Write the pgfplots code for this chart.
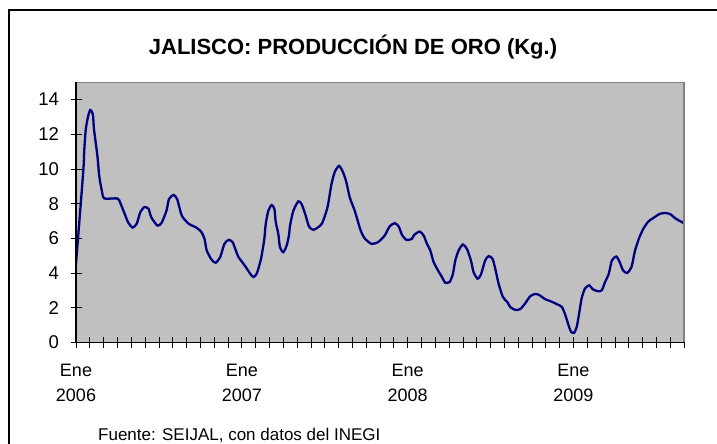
\documentclass[border=0pt]{standalone}
\usepackage{fontspec}
\setmainfont{Liberation Sans}
\usepackage{pgfplots}
\pgfplotsset{compat=1.18}
\definecolor{plotgray}{HTML}{C0C0C0}
\definecolor{bordergray}{HTML}{808080}
\definecolor{navyline}{HTML}{000080}
\begin{document}
\begin{tikzpicture}
\useasboundingbox (0bp,0bp) rectangle (717bp,444bp);
\draw[black, line width=1.3bp] (9bp,-20bp) -- (9bp,434bp) -- (740bp,434bp);
\begin{axis}[
  at={(76bp,101.7bp)}, anchor=origin, scale only axis,
  width=608bp, height=260bp,
  xmin=0, xmax=44, ymin=0, ymax=15,
  axis background/.style={fill=plotgray},
  axis line style={draw=none},
  xtick pos=bottom, ytick pos=left,
  xtick={0,12,24,36},
  xticklabels={{Ene\\2006},{Ene\\2007},{Ene\\2008},{Ene\\2009}},
  minor xtick={0,...,44},
  ytick={0,2,...,14},
  tick align=center,
  major tick length=11bp, minor tick length=11bp,
  tick style={black, line width=0.8bp},
  xticklabel style={align=center, font=\fontsize{18bp}{25bp}\selectfont, yshift=-13bp},
  yticklabel style={font=\fontsize{18.5bp}{20bp}\selectfont, xshift=-8bp},
  /pgf/number format/assume math mode=true,
  after end axis/.code={
    \draw[bordergray, line width=1.2bp] (rel axis cs:0,1) -- (rel axis cs:1,1) -- (rel axis cs:1,0);
    \draw[black, line width=1.2bp] (rel axis cs:0,1) -- (rel axis cs:0,0) -- (rel axis cs:1,0);
  },
]
\addplot[navyline, line width=2.3bp, smooth, tension=0.4] coordinates {
(0,4.53) (0.52,9.8) (0.6,11.1) (0.71,12.3) (0.88,13.05) (1.02,13.4) (1.15,13.3)
(1.24,13.05) (1.3,12.3) (1.55,10.75) (1.68,9.6) (1.87,8.74) (2.05,8.3) (3.0,8.3)
(3.19,8.07) (3.48,7.5) (3.79,6.89) (4.1,6.62) (4.4,6.85) (4.65,7.5) (4.95,7.8)
(5.25,7.7) (5.45,7.21) (5.9,6.73) (6.2,6.9) (6.55,7.6) (6.73,8.27) (7.07,8.5)
(7.33,8.24) (7.66,7.3) (8.17,6.83) (8.64,6.65) (9.05,6.39) (9.3,5.97) (9.46,5.3)
(9.8,4.78) (10.1,4.59) (10.43,4.9) (10.74,5.68) (11.05,5.91) (11.33,5.78) (11.52,5.4)
(11.76,4.92) (12.24,4.4) (12.6,3.96) (12.84,3.77) (13.08,3.96) (13.39,4.82) (13.63,5.97)
(13.73,6.83) (13.92,7.59) (14.16,7.92) (14.36,7.69) (14.45,6.96) (14.64,6.26) (14.76,5.49)
(15.0,5.2) (15.25,5.59) (15.41,6.16) (15.49,6.73) (15.73,7.59) (16.09,8.13) (16.33,7.97)
(16.62,7.31) (16.86,6.68) (17.17,6.49) (17.53,6.64) (17.82,6.88) (18.2,7.79) (18.49,9.13)
(18.73,9.83) (19.04,10.18) (19.33,9.80) (19.57,9.22) (19.81,8.36) (20.17,7.59) (20.6,6.45)
(20.89,6.0) (21.38,5.68) (21.86,5.78) (22.34,6.16) (22.7,6.69) (23.06,6.87) (23.35,6.69)
(23.59,6.2) (23.9,5.91) (24.07,5.91) (24.31,5.97) (24.48,6.2) (24.87,6.39) (25.16,6.16)
(25.4,5.68) (25.64,5.3) (25.88,4.63) (26.24,4.09) (26.48,3.77) (26.72,3.44) (27.04,3.48)
(27.28,3.96) (27.45,4.72) (27.69,5.3) (28.0,5.64) (28.29,5.39) (28.58,4.72) (28.77,4.05)
(29.06,3.67) (29.3,3.9) (29.61,4.72) (29.86,4.97) (30.14,4.82) (30.34,4.25) (30.58,3.39)
(30.89,2.62) (31.23,2.3) (31.42,2.04) (31.78,1.87) (32.14,1.91) (32.5,2.24) (32.87,2.66)
(33.23,2.79) (33.54,2.72) (33.95,2.49) (34.43,2.34) (34.8,2.2) (35.16,2.04) (35.4,1.6)
(35.64,1.0) (35.83,0.6) (36.05,0.55) (36.24,0.9) (36.41,1.66) (36.59,2.53) (36.83,3.1)
(37.15,3.29) (37.39,3.06) (37.76,2.95) (38.05,3.0) (38.29,3.48) (38.56,3.96) (38.78,4.72)
(39.1,4.95) (39.34,4.63) (39.59,4.15) (39.88,4.0) (40.2,4.34) (40.44,5.24) (40.73,5.97)
(41.05,6.54) (41.41,6.96) (41.85,7.21) (42.22,7.4) (42.59,7.46) (43.0,7.4) (43.37,7.15)
(44.0,6.87)
};
\end{axis}
\node[anchor=base, inner sep=0, font=\fontsize{22bp}{26bp}\selectfont\bfseries] at (353bp,389bp) {JALISCO: PRODUCCIÓN DE ORO (Kg.)};
\node[anchor=base west, inner sep=0, font=\fontsize{17bp}{20bp}\selectfont] at (98bp,4bp) {Fuente: SEIJAL, con datos del INEGI};
\end{tikzpicture}
\end{document}
